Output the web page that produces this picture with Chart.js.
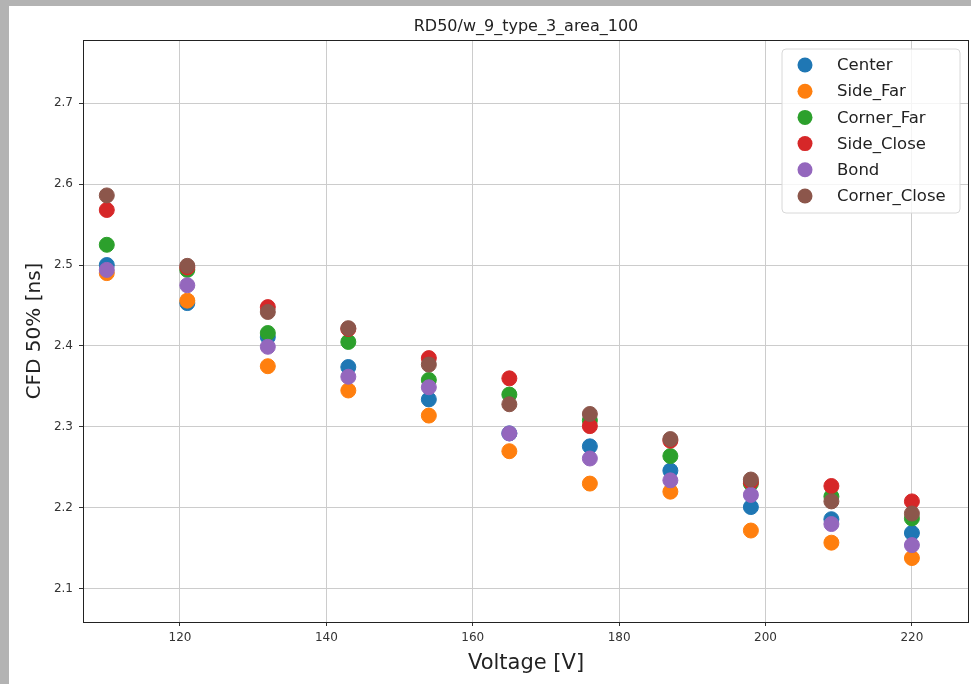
<!DOCTYPE html>
<html>
<head>
<meta charset="utf-8">
<script src="https://cdn.jsdelivr.net/npm/chart.js@4/dist/chart.umd.min.js"></script>
<style>
  html, body { margin: 0; padding: 0; background: #b3b3b3; }
  #panel { position: absolute; left: 9px; top: 6px; width: 962px; height: 678px; background: #fff; }
</style>
</head>
<body>
<div id="panel"><canvas id="cfdChart"></canvas></div>
<script>
// valores
const voltage = [110, 121, 132, 143, 154, 165, 176, 187, 198, 209, 220];
const center = [2.500, 2.453, 2.411, 2.374, 2.334, 2.292, 2.276, 2.246, 2.201, 2.186, 2.169];
const sideFar = [2.490, 2.456, 2.375, 2.345, 2.314, 2.270, 2.230, 2.220, 2.172, 2.157, 2.138];
const cornerFar = [2.525, 2.494, 2.416, 2.405, 2.358, 2.340, 2.308, 2.264, 2.230, 2.214, 2.187];
const sideClose = [2.568, 2.497, 2.448, 2.421, 2.385, 2.360, 2.301, 2.283, 2.232, 2.227, 2.208];
const bond = [2.494, 2.475, 2.399, 2.362, 2.349, 2.292, 2.261, 2.234, 2.216, 2.180, 2.154];
const cornerClose = [2.586, 2.499, 2.442, 2.422, 2.377, 2.328, 2.316, 2.285, 2.235, 2.208, 2.193];

const seriesNames = ['Center', 'Side_Far', 'Corner_Far', 'Side_Close', 'Bond', 'Corner_Close'];
const seriesValues = [center, sideFar, cornerFar, sideClose, bond, cornerClose];
const seriesColors = ['#1f77b4', '#ff7f0e', '#2ca02c', '#d62728', '#9467bd', '#8c564b'];

const xTicks = [120, 140, 160, 180, 200, 220];
const yTicks = [2.1, 2.2, 2.3, 2.4, 2.5, 2.6, 2.7];
const chartTitle = 'RD50/w_9_type_3_area_100';

const FONT = '"DejaVu Sans", sans-serif';

const datasets = seriesNames.map((name, i) => ({
    label: name,
    data: voltage.map((v, j) => ({ x: v, y: seriesValues[i][j] })),
    backgroundColor: seriesColors[i],
    borderColor: seriesColors[i],
    borderWidth: 1,
    pointRadius: 7.5,
    order: seriesNames.length - i   // o último fica por cima, como no matplotlib
}));

// moldura, título e legenda dentro da área do gráfico
const extras = {
    id: 'extras',
    afterDatasetsDraw(chart) {
        const { ctx, chartArea: a } = chart;
        ctx.save();
        ctx.strokeStyle = '#222';
        ctx.lineWidth = 1;
        ctx.strokeRect(a.left + 0.5, a.top + 0.5, a.right - a.left - 1, a.bottom - a.top);

        ctx.fillStyle = '#222';
        ctx.font = '16px ' + FONT;
        ctx.textAlign = 'center';
        ctx.textBaseline = 'middle';
        ctx.fillText(chartTitle, (a.left + a.right) / 2, 21);

        // legenda
        const bx = 773, by = 43, bw = 178, bh = 164, r = 4;
        ctx.beginPath();
        ctx.moveTo(bx + r, by);
        ctx.arcTo(bx + bw, by, bx + bw, by + bh, r);
        ctx.arcTo(bx + bw, by + bh, bx, by + bh, r);
        ctx.arcTo(bx, by + bh, bx, by, r);
        ctx.arcTo(bx, by, bx + bw, by, r);
        ctx.closePath();
        ctx.fillStyle = 'rgba(255,255,255,0.8)';
        ctx.fill();
        ctx.strokeStyle = '#d8d8d8';
        ctx.stroke();

        ctx.font = '16.5px ' + FONT;
        ctx.textAlign = 'left';
        seriesNames.forEach((name, i) => {
            const y = 59 + i * 26.2;
            ctx.beginPath();
            ctx.arc(796, y, 7.5, 0, Math.PI * 2);
            ctx.fillStyle = seriesColors[i];
            ctx.fill();
            ctx.fillStyle = '#222';
            ctx.fillText(name, 828, y + 1);
        });
        ctx.restore();
    }
};

const ctx = document.getElementById('cfdChart').getContext('2d');

new Chart(ctx, {
    type: 'scatter',
    data: { datasets: datasets },
    options: {
        responsive: true,
        maintainAspectRatio: false,
        animation: false,
        events: [],
        layout: { autoPadding: false, padding: { top: 34, right: 2, left: 0, bottom: 0 } },
        plugins: {
            legend: { display: false },
            title: { display: false },
            tooltip: { enabled: false }
        },
        scales: {
            x: {
                type: 'linear',
                min: 106.75,
                max: 227.8,
                afterFit: (s) => { s.height = 62; s.paddingLeft = 0; s.paddingRight = 0; },
                afterBuildTicks: (s) => { s.ticks = xTicks.map(v => ({ value: v })); },
                grid: { color: '#cccccc', lineWidth: 1, tickLength: 4, tickColor: '#333' },
                border: { display: false },
                ticks: { color: '#333', font: { family: FONT, size: 12 }, padding: 5, maxRotation: 0 },
                title: { display: true, text: 'Voltage [V]', color: '#222', font: { family: FONT, size: 21 }, padding: { top: 0, bottom: 8 } }
            },
            y: {
                type: 'linear',
                min: 2.059,
                max: 2.778,
                afterFit: (s) => { s.width = 74; s.paddingTop = 0; s.paddingBottom = 0; },
                afterBuildTicks: (s) => { s.ticks = yTicks.map(v => ({ value: v })); },
                grid: { color: '#cccccc', lineWidth: 1, tickLength: 4, tickColor: '#333' },
                border: { display: false },
                ticks: { color: '#333', font: { family: FONT, size: 12 }, padding: 6, callback: (v) => v.toFixed(1) },
                title: { display: true, text: 'CFD 50% [ns]', color: '#222', font: { family: FONT, size: 20 }, padding: { top: 14, bottom: 0 } }
            }
        }
    },
    plugins: [extras]
});
</script>
</body>
</html>
